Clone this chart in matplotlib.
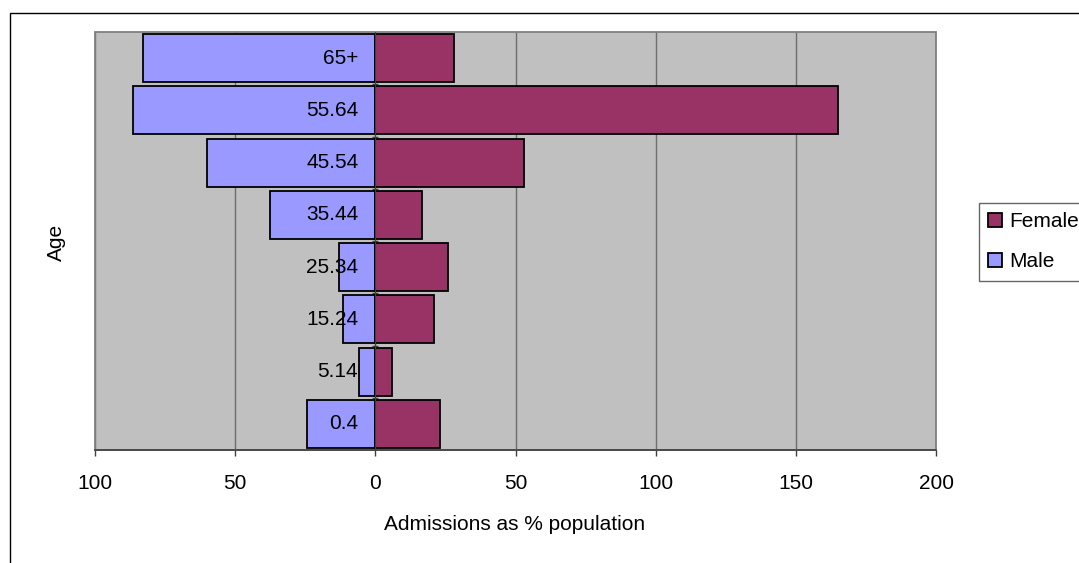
import matplotlib
matplotlib.use("Agg")
import matplotlib.pyplot as plt
from matplotlib.patches import Patch, Rectangle
from matplotlib.ticker import FuncFormatter

plt.rcParams['font.family'] = ['Liberation Sans', 'DejaVu Sans']

# Age groups, bottom to top
age_groups = ["0.4", "5.14", "15.24", "25.34", "35.44", "45.54", "55.64", "65+"]
male = [24.3, 5.7, 11.4, 12.8, 37.7, 59.9, 86.3, 82.8]
female = [23.1, 5.8, 20.9, 25.9, 16.7, 53.0, 165.2, 28.1]
x_ticks = [-100, -50, 0, 50, 100, 150, 200]

W, H = 1079, 563
FS = 15
fig = plt.figure(figsize=(W / 100, H / 100), dpi=100)
ax = fig.add_axes([95 / W, 1 - 450 / H, (936 - 95) / W, (450 - 32) / H])

male_color = "#9999FF"
female_color = "#993366"
grid_color = "#6e6e6e"

pos = list(range(len(age_groups)))
ax.barh(pos, [-m for m in male], height=0.92, color=male_color,
        edgecolor="black", linewidth=1.3, zorder=3)
ax.barh(pos, female, height=0.92, color=female_color,
        edgecolor="black", linewidth=1.3, zorder=3)

ax.set_xlim(-100, 200)
ax.set_ylim(-0.5, len(age_groups) - 0.5)
ax.set_facecolor("#C0C0C0")

ax.set_xticks(x_ticks)
ax.xaxis.set_major_formatter(FuncFormatter(lambda v, p: f"{abs(v):g}"))
ax.xaxis.grid(True, color=grid_color, linewidth=1.0)
ax.set_axisbelow(True)
ax.tick_params(axis="x", direction="out", length=4, width=1.0,
               color="#404040", labelsize=FS, pad=13)

# Category axis on the zero line; labels drawn on top of the bars
ax.spines["left"].set_position(("data", 0))
ax.spines["left"].set_color("#404040")
ax.spines["left"].set_zorder(4)
ax.set_yticks([p + 0.5 for p in pos[:-1]])
ax.set_yticklabels([])
ax.tick_params(axis="y", direction="inout", length=5, width=1.0,
               color="#404040")
for p, name in zip(pos, age_groups):
    ax.annotate(name, xy=(0, p), xytext=(-12.3, 0), textcoords="offset points",
                ha="right", va="center", fontsize=FS, zorder=6)

ax.spines["bottom"].set_color("#404040")
ax.spines["bottom"].set_linewidth(1.2)
for s in ("top", "right"):
    ax.spines[s].set_visible(False)

# Plot-area frame
ax.add_patch(Rectangle((0, 0), 1, 1, transform=ax.transAxes, fill=False,
                       edgecolor="#808080", linewidth=1.3, zorder=2,
                       clip_on=False))

fig.text(515 / W, 1 - 525 / H, "Admissions as % population",
         ha="center", va="center", fontsize=FS)
fig.text(56 / W, 1 - 242 / H, "Age", rotation=90, ha="center", va="center",
         fontsize=FS)

handles = [Patch(facecolor=female_color, edgecolor="black", linewidth=1.3),
           Patch(facecolor=male_color, edgecolor="black", linewidth=1.3)]
leg = fig.legend(handles, ["Female", "Male"], loc="upper left",
                 bbox_to_anchor=(979 / W, 1 - 203 / H), fontsize=FS,
                 frameon=True, fancybox=False, handlelength=0.65,
                 handleheight=0.65, handletextpad=0.35, labelspacing=1.0,
                 borderpad=0.45, borderaxespad=0)
leg.get_frame().set_edgecolor("#404040")
leg.get_frame().set_linewidth(1.0)

# Chart border
fig.add_artist(Rectangle((9.5 / W, -0.05), 1.2, 1 - 12.5 / H + 0.05,
                         transform=fig.transFigure, fill=False,
                         edgecolor="black", linewidth=1.0))

fig.savefig("out.png", dpi=100, facecolor="white")
